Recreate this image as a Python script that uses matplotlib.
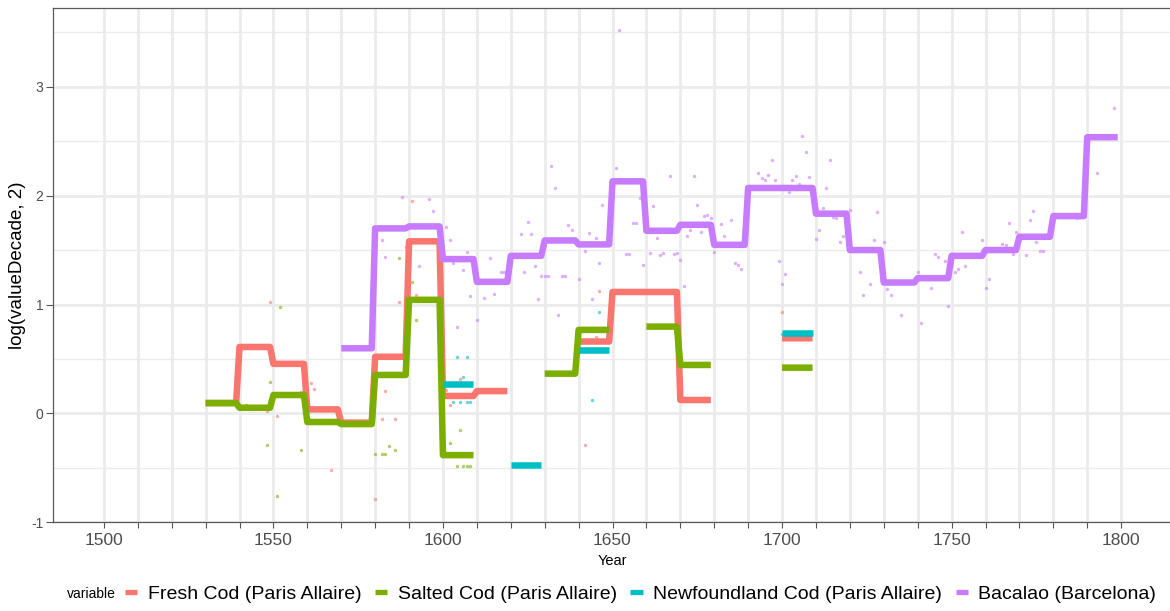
import numpy as np
import matplotlib.pyplot as plt
from matplotlib.lines import Line2D

plt.rcParams['font.family'] = ['Liberation Sans', 'DejaVu Sans']
plt.rcParams['axes.unicode_minus'] = False

nan = np.nan

# decade means (log2 of value), one entry per decade
decades = [1530, 1540, 1550, 1560, 1570, 1580, 1590, 1600, 1610, 1620, 1630, 1640, 1650, 1660,
           1670, 1680, 1690, 1700, 1710, 1720, 1730, 1740, 1750, 1760, 1770, 1780, 1790]
fresh_cod = [0.095, 0.61, 0.455, 0.037, -0.085, 0.52, 1.58, 0.16, 0.205, nan, nan, 0.66, 1.115, 1.115,
             0.123, nan, nan, 0.69, nan, nan, nan, nan, nan, nan, nan, nan, nan]
salted_cod = [0.095, 0.052, 0.169, -0.079, -0.098, 0.353, 1.043, -0.383, nan, nan, 0.365, 0.767, nan, 0.797,
              0.445, nan, nan, 0.42, nan, nan, nan, nan, nan, nan, nan, nan, nan]
newfoundland_cod = [nan, nan, nan, nan, nan, nan, nan, 0.273, nan, -0.475, nan, 0.58, nan, nan,
                    nan, nan, nan, 0.735, nan, nan, nan, nan, nan, nan, nan, nan, nan]
bacalao = [nan, nan, nan, nan, 0.598, 1.699, 1.717, 1.417, 1.208, 1.447, 1.588, 1.552, 2.131, 1.677,
           1.732, 1.548, 2.07, 2.07, 1.834, 1.50, 1.202, 1.242, 1.447, 1.50, 1.622, 1.812, 2.536]

# yearly observations
fresh_years = [1548, 1549, 1551, 1558, 1561, 1562, 1567, 1580, 1582, 1583, 1586, 1587, 1589, 1591, 1592,
               1601, 1602, 1605, 1642, 1645, 1646, 1700]
fresh_vals = [0.02, 1.02, -0.02, 0.20, 0.28, 0.22, -0.52, -0.79, -0.055, 0.21, -0.055, 1.02, 1.53, 1.95, 1.09,
              0.215, 0.077, 0.313, -0.29, 0.70, 1.12, 0.93]

salted_years = [1542, 1548, 1549, 1551, 1552, 1558, 1580, 1582, 1583, 1584, 1586, 1587, 1589, 1591, 1592,
                1602, 1605, 1604, 1606, 1607, 1608]
salted_vals = [0.08, -0.29, 0.29, -0.76, 0.98, -0.34, -0.37, -0.37, -0.37, -0.30, -0.34, 1.43, 1.21, 1.21, 0.86,
               -0.27, -0.155, -0.48, -0.48, -0.48, -0.48]

newf_years = [1603, 1605, 1607, 1608, 1604, 1607, 1606, 1644, 1646, 1700]
newf_vals = [0.107, 0.107, 0.107, 0.107, 0.518, 0.518, 0.331, 0.12, 0.93, 0.73]

bac_years = [1582, 1583, 1588, 1593, 1596, 1597, 1601, 1602, 1603, 1604, 1606, 1607, 1608, 1610, 1612,
             1614, 1615, 1617, 1618, 1623, 1624, 1625, 1626, 1627, 1628, 1629, 1630, 1631, 1632, 1633,
             1634, 1635, 1636, 1637, 1638, 1640, 1642, 1643, 1644, 1645, 1646, 1647, 1649, 1651, 1652,
             1654, 1655, 1656, 1657, 1658, 1659, 1661, 1662, 1663, 1664, 1665, 1667, 1668, 1669, 1670,
             1671, 1672, 1673, 1674, 1675, 1676, 1677, 1678, 1679, 1680, 1682, 1683, 1685, 1686, 1687,
             1688, 1693, 1694, 1695, 1696, 1697, 1698, 1699, 1700, 1701, 1702, 1703, 1704, 1705, 1706,
             1707, 1708, 1710, 1711, 1712, 1713, 1714, 1715, 1716, 1717, 1718, 1720, 1723, 1724, 1726,
             1727, 1728, 1730, 1731, 1732, 1735, 1740, 1741, 1744, 1745, 1746, 1748, 1749, 1751, 1752,
             1753, 1754, 1755, 1759, 1760, 1761, 1764, 1765, 1766, 1767, 1768, 1769, 1772, 1773, 1774,
             1775, 1776, 1777, 1787, 1793, 1798]
bac_vals = [1.59, 1.44, 1.99, 1.355, 1.97, 1.855, 1.71, 1.595, 1.38, 0.79, 1.32, 1.48, 1.08, 0.86, 1.06,
            1.43, 1.10, 1.30, 1.30, 1.645, 1.30, 1.76, 1.645, 1.355, 1.05, 1.26, 1.26, 1.26, 2.27, 2.07,
            0.905, 1.26, 1.26, 1.73, 1.685, 1.235, 1.49, 1.66, 1.05, 1.61, 1.38, 1.91, 1.91, 2.25, 3.52,
            1.46, 1.46, 1.75, 1.75, 1.975, 1.36, 1.47, 1.90, 1.61, 1.45, 1.47, 2.18, 1.46, 1.47, 1.41,
            1.17, 1.63, 1.685, 2.18, 1.91, 1.67, 1.815, 1.82, 1.79, 1.485, 1.74, 1.625, 1.775, 1.38, 1.36,
            1.33, 2.21, 2.16, 2.14, 2.19, 2.33, 2.14, 1.40, 1.19, 1.28, 2.03, 2.14, 2.18, 2.11, 2.55,
            2.40, 2.17, 1.60, 1.68, 1.89, 2.07, 2.33, 1.80, 1.79, 1.57, 1.625, 1.87, 1.30, 1.09, 1.19,
            1.59, 1.85, 1.57, 1.14, 1.09, 0.905, 1.30, 0.83, 1.15, 1.46, 1.435, 1.40, 0.99, 1.30, 1.33,
            1.665, 1.35, 1.465, 1.59, 1.15, 1.23, 1.52, 1.56, 1.55, 1.75, 1.46, 1.67, 1.45, 1.78, 1.86,
            1.57, 1.49, 1.49, 1.79, 2.21, 2.80]

labels = ['Fresh Cod (Paris Allaire)', 'Salted Cod (Paris Allaire)',
          'Newfoundland Cod (Paris Allaire)', 'Bacalao (Barcelona)']
colors = ['#F8766D', '#7CAE00', '#00BFC4', '#C77CFF']

W, H = 1170, 611
fig = plt.figure(figsize=(W / 100, H / 100), dpi=100)
ax = fig.add_axes([53 / W, 1 - 522.3 / H, (1172 - 53) / W, (522.3 - 8.3) / H])

# every year of a decade gets the decade mean
years = (np.array(decades)[:, None] + np.arange(10)).ravel()

series_points = [(fresh_years, fresh_vals), (salted_years, salted_vals),
                 (newf_years, newf_vals), (bac_years, bac_vals)]
for (px, py), c in zip(series_points, colors):
    ax.scatter(px, py, s=6, color=c, alpha=0.6, linewidths=0, zorder=2)

for s, c in zip([fresh_cod, salted_cod, newfoundland_cod, bacalao], colors):
    ax.plot(years, np.repeat(s, 10), color=c, lw=4.7, solid_capstyle='butt',
            solid_joinstyle='round', zorder=3)

ax.set_xlim(1485, 1815)
ax.set_ylim(-1.0, 3.72)

ax.set_xticks(np.arange(1500, 1801, 10))
ax.set_xticklabels([str(y) if y % 50 == 0 else '' for y in range(1500, 1801, 10)])
ax.set_yticks([-1, 0, 1, 2, 3])
ax.set_yticks([-0.5, 0.5, 1.5, 2.5, 3.5], minor=True)

ax.grid(True, which='major', axis='both', color='#EBEBEB', lw=2.0, zorder=0)
ax.grid(True, which='minor', axis='y', color='#EBEBEB', lw=1.0, zorder=0)
ax.set_axisbelow(True)

ax.tick_params(axis='x', which='major', length=4, width=0.8, color='#555555',
               labelsize=12.5, labelcolor='#4D4D4D', pad=4)
ax.tick_params(axis='y', which='major', length=5, width=0.8, color='#555555',
               labelsize=10, labelcolor='#4D4D4D', pad=2)
ax.tick_params(axis='y', which='minor', length=0)

for side in ['left', 'bottom', 'top']:
    ax.spines[side].set_color('#595959')
    ax.spines[side].set_linewidth(0.9)
ax.spines['right'].set_visible(False)

ax.set_xlabel('Year', fontsize=10.5, labelpad=4)
ax.set_ylabel('log(valueDecade, 2)', fontsize=13.5)
ax.yaxis.set_label_coords(-0.024, 0.5)

fig.text(67 / W, 1 - 594 / H, 'variable', fontsize=10, ha='left', va='center')
handles = [Line2D([], [], color=c, lw=3.8, solid_capstyle='butt') for c in colors]
fig.legend(handles, labels, loc='center left', bbox_to_anchor=(125 / W, 1 - 594 / H),
           ncol=4, frameon=False, fontsize=14, handlelength=0.62, handletextpad=0.55,
           columnspacing=0.7, borderpad=0, borderaxespad=0)

fig.savefig('out.png', dpi=100)
